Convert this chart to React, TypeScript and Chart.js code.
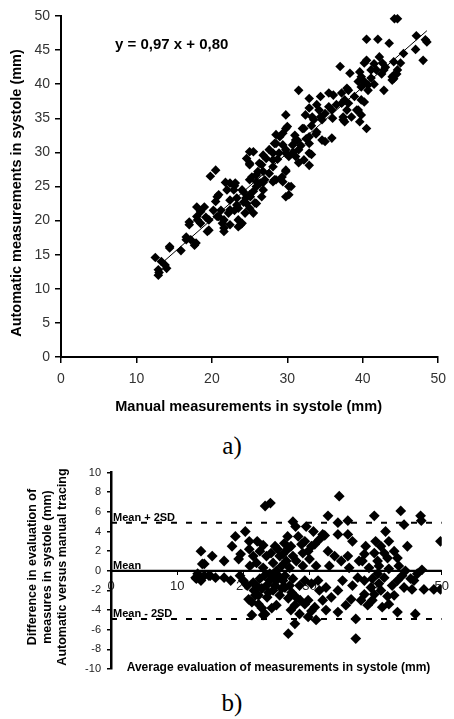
import React, { useEffect, useRef } from 'react';
import { Chart, registerables } from 'chart.js';

Chart.register(...registerables);

const FONT = '"Liberation Sans", Arial, Helvetica, sans-serif';

// ---------- Chart a) : automatic vs manual ----------
const A_X_TICKS = [0, 10, 20, 30, 40, 50];
const A_Y_TICKS = [0, 5, 10, 15, 20, 25, 30, 35, 40, 45, 50];
const A_X_TITLE = 'Manual measurements in systole (mm)';
const A_Y_TITLE = 'Automatic measurements in systole (mm)';
const A_EQUATION = 'y = 0,97 x + 0,80';
const REG_SLOPE = 0.97;
const REG_INTERCEPT = 0.8;
const REG_X_RANGE = [13.5, 48.5];

const MANUAL_X = [
  12.5, 12.9, 12.9, 13.3, 14.0, 13.8, 14.4, 15.9, 16.6, 17.0,
  17.2, 17.9, 17.7, 18.0, 18.0, 18.5, 19.0, 19.2, 19.4, 20.2,
  20.7, 21.4, 21.6, 21.2, 22.2, 22.4, 23.0, 23.5, 23.8, 23.3,
  24.4, 25.0, 25.5, 24.2, 25.7, 18.5, 18.1, 17.0, 19.6, 20.9,
  20.5, 20.9, 22.0, 23.1, 22.9, 24.0, 22.4, 23.3, 24.5, 25.1,
  23.5, 22.4, 21.6, 23.5, 24.0, 21.6, 19.6, 16.6, 14.4, 13.0,
  25.3, 25.9, 26.4, 27.0, 27.6, 28.3, 29.4, 29.8, 30.2, 30.2,
  24.6, 25.0, 26.6, 26.1, 27.2, 28.1, 28.9, 29.8, 30.2, 28.3,
  29.4, 30.7, 25.9, 26.8, 25.0, 26.6, 24.6, 25.9, 19.8, 20.5,
  21.8, 22.4, 23.0, 24.2, 25.5, 20.7, 25.0, 25.5, 26.8, 28.1,
  28.7, 25.0, 26.3, 28.1, 29.8, 29.3, 28.5, 26.8, 25.9, 25.0,
  26.8, 28.1, 30.5, 29.8, 29.8, 29.8, 28.5, 29.0, 28.5, 31.3,
  31.5, 32.9, 33.2, 27.6, 29.8, 31.1, 32.2, 31.5, 32.9, 31.5,
  32.9, 34.4, 35.5, 33.9, 32.9, 35.0, 34.4, 32.4, 33.5, 32.2,
  33.2, 33.9, 32.9, 34.6, 35.9, 33.8, 37.0, 41.8, 42.8, 39.6,
  38.3, 44.1, 44.1, 44.5, 41.1, 39.4, 39.8, 40.7, 41.5, 42.8,
  43.9, 38.1, 37.2, 38.9, 39.8, 37.6, 39.4, 37.4, 37.6, 39.6,
  39.8, 40.5, 35.9, 38.1, 44.2, 44.6, 40.5, 42.0, 43.5, 47.1,
  48.5, 47.0, 48.0, 45.4, 42.2, 40.5, 42.6, 44.1, 45.0, 48.3,
  44.6, 40.2, 41.1, 39.8, 40.2, 40.7, 40.2, 43.9, 36.1, 37.9,
  37.2, 37.9, 38.5, 39.2, 37.4, 34.2, 35.5, 34.6, 33.3, 30.0,
  32.0, 35.0, 29.4, 31.1, 32.9, 30.8, 31.8, 32.5, 31.0, 36.0,
  36.5, 42.5, 43.0, 41.5,
];
const AUTO_Y = [
  14.6, 12.8, 12.0, 14.0, 13.0, 13.5, 16.0, 15.6, 17.6, 19.4,
  17.2, 16.7, 16.4, 22.0, 20.6, 19.6, 22.0, 20.5, 18.4, 21.5,
  20.6, 19.6, 18.4, 21.5, 21.1, 19.4, 21.5, 19.1, 19.4, 22.3,
  21.1, 21.8, 21.1, 22.7, 22.6, 21.3, 20.1, 19.8, 20.1, 20.6,
  22.8, 23.8, 24.5, 25.5, 24.5, 24.5, 23.0, 23.3, 23.3, 23.5,
  21.8, 21.6, 20.1, 20.1, 19.6, 18.9, 18.6, 17.2, 16.2, 12.4,
  26.4, 25.7, 25.5, 26.0, 26.9, 26.0, 25.7, 27.4, 25.0, 23.8,
  29.1, 28.2, 28.2, 27.2, 29.1, 29.9, 29.9, 30.4, 29.4, 31.3,
  31.1, 31.1, 25.0, 24.5, 23.8, 23.5, 22.5, 22.5, 26.5, 27.4,
  25.6, 25.5, 25.1, 24.2, 24.3, 23.5, 30.1, 30.1, 29.6, 28.9,
  29.0, 28.4, 28.4, 27.9, 27.2, 26.4, 26.0, 27.2, 26.7, 26.0,
  25.6, 25.7, 25.0, 23.5, 35.5, 33.5, 32.6, 32.3, 31.3, 31.8,
  30.4, 29.9, 29.7, 30.4, 29.9, 29.4, 28.9, 28.5, 28.1, 39.1,
  37.9, 38.2, 38.7, 37.0, 36.5, 35.7, 35.2, 35.5, 34.8, 33.5,
  33.9, 33.0, 32.3, 31.8, 32.1, 32.7, 42.6, 42.1, 42.1, 41.8,
  41.6, 41.3, 40.8, 41.5, 40.9, 40.4, 39.6, 39.9, 40.0, 39.1,
  40.6, 39.1, 38.7, 38.2, 37.7, 37.7, 36.2, 35.2, 34.5, 34.5,
  35.5, 33.5, 36.2, 37.2, 49.6, 49.6, 46.6, 46.6, 46.0, 47.1,
  46.2, 45.1, 43.5, 44.5, 44.0, 43.5, 43.1, 43.3, 43.1, 46.5,
  42.1, 43.1, 42.1, 41.1, 40.4, 39.1, 37.4, 41.1, 38.4, 39.4,
  37.2, 36.2, 35.2, 36.2, 34.8, 36.2, 36.7, 34.8, 35.2, 33.8,
  33.5, 31.6, 32.8, 31.8, 31.3, 30.0, 31.0, 32.0, 32.5, 35.0,
  37.0, 41.5, 42.5, 43.0,
];

// ---------- Chart b) : Bland-Altman ----------
const B_X_TICKS = [0, 10, 20, 30, 40, 50];
const B_Y_TICKS = [-10, -8, -6, -4, -2, 0, 2, 4, 6, 8, 10];
const B_X_TITLE = 'Average evaluation of measurements in systole (mm)';
const B_Y_TITLE = ['Difference in evaluation of', 'measures in systole (mm)', 'Automatic versus manual tracing'];
const MEAN_DIFF = 0;
const UPPER_LOA = 4.9;
const LOWER_LOA = -4.9;
const LOA_LABELS = ['Mean + 2SD', 'Mean', 'Mean - 2SD'];

const AVG_X = [
  13.6, 15.3, 14.1, 13.1, 12.9, 13.6, 14.1, 15.0, 12.8, 17.1,
  13.8, 14.8, 15.8, 17.1, 18.1, 18.3, 18.8, 20.3, 22.1, 23.3,
  24.1, 20.9, 19.6, 20.9, 19.3, 21.5, 22.5, 23.5, 24.5, 21.0,
  22.0, 23.0, 24.0, 22.5, 21.5, 23.5, 25.0, 20.6, 21.3, 21.8,
  21.3, 23.3, 22.3, 20.8, 22.3, 21.6, 23.6, 24.3, 23.0, 24.5,
  25.5, 25.0, 24.0, 19.5, 20.0, 24.8, 25.5, 25.8, 26.3, 26.0,
  26.7, 27.2, 27.5, 27.9, 26.7, 28.8, 29.8, 30.6, 30.8, 29.3,
  30.3, 28.0, 29.0, 30.0, 31.0, 27.0, 26.3, 27.3, 28.0, 29.3,
  30.3, 29.8, 26.8, 27.8, 28.5, 29.3, 30.3, 31.3, 29.8, 30.8,
  28.5, 27.5, 31.5, 31.0, 32.0, 32.8, 32.3, 34.5, 34.3, 35.8,
  32.0, 34.3, 35.8, 36.5, 32.8, 33.8, 35.8, 34.8, 32.5, 34.3,
  37.3, 33.3, 34.3, 36.3, 37.8, 37.0, 37.0, 33.0, 36.0, 35.0,
  36.5, 32.5, 35.5, 37.5, 38.3, 39.8, 41.3, 42.8, 38.0, 40.3,
  41.8, 43.3, 40.0, 42.0, 44.8, 39.8, 43.8, 41.5, 44.3, 38.3,
  39.3, 40.3, 41.3, 43.3, 45.3, 45.5, 44.3, 38.3, 39.8, 40.8,
  38.8, 42.0, 43.3, 41.0, 45.8, 39.0, 40.5, 42.0, 43.5, 44.5,
  39.5, 42.5, 44.0, 38.5, 40.8, 46.8, 46.9, 49.8, 47.0, 47.3,
  48.8, 49.8, 46.0, 46.3, 29.5, 31.5,
  26.5, 27.5, 25.0, 26.0, 24.5, 27.0,
  22.8, 23.8, 24.8, 22.0, 23.2, 25.3, 22.8, 25.8, 26.8, 27.8,
  28.6, 27.2, 23.0, 24.2, 25.2, 26.2, 28.3, 29.0, 40.5, 41.8,
  42.8, 39.5,
];
const DIFF_Y = [
  2.0, 1.5, 0.7, -0.3, -0.8, -1.0, -0.5, -0.5, -0.7, 1.0,
  0.7, -0.5, -0.7, -0.7, -1.0, 2.5, 3.5, 4.0, 3.0, 6.6,
  6.9, 3.0, 1.7, 2.2, 1.2, 1.5, 2.0, 1.5, 0.8, 0.5,
  0.8, 0.3, -0.3, -0.8, -1.2, -1.5, -1.0, -1.5, -3.2, -2.5,
  -4.5, -4.4, -3.4, -2.9, -2.5, -2.0, -2.7, -3.8, -4.5, -2.0,
  -2.5, -3.5, -1.0, -0.5, -1.0, 2.5, 1.5, 0.5, -0.5, 1.7,
  2.2, 2.5, 5.0, 4.5, 3.5, 2.7, 2.0, 4.0, 2.7, 3.0,
  2.5, 1.0, 0.5, 1.2, 0.5, 0.3, -1.7, -2.2, -2.7, -3.4,
  -4.1, -4.7, -6.4, -5.4, -4.4, -1.0, -1.3, -1.0, -3.0, -3.7,
  -1.5, -0.8, -2.0, -5.0, -3.0, 5.6, 3.6, 7.6, 4.9, 5.1,
  3.7, 3.7, 3.7, 3.0, 2.0, 1.5, 1.5, 1.0, -1.7, -2.0,
  -0.7, -2.7, -4.2, -2.9, -3.0, -6.9, -4.9, 0.5, 0.3, -1.0,
  -1.5, -4.0, -3.5, 1.0, 1.7, 1.8, 1.8, 2.0, 1.0, 1.0,
  1.3, 1.3, 3.0, 3.0, 2.5, 5.6, 6.1, 4.0, 4.7, -1.0,
  -1.7, -0.3, -0.7, -1.0, -0.8, -1.9, -1.7, -2.4, -2.4, -2.0,
  -3.5, -3.4, -4.2, -3.7, -1.0, 0.3, 0.5, 0.2, 0.5, 0.0,
  -0.8, -1.5, -0.5, 2.5, 2.5, 5.6, 5.1, 3.0, 0.1, -1.9,
  -1.9, -1.9, -4.4, -0.3, 4.5, 3.2,
  1.0, 1.5, 0.0, -1.0, -0.5, -1.5,
  -1.8, -2.2, -1.5, -1.5, -0.5, -0.5, -3.8, -1.8, -2.8, -3.5,
  -3.0, -4.0, 2.6, 1.8, 2.2, 2.8, 3.5, 1.8, -1.3, -2.6,
  -2.5, -3.0,
];

const fixedTicks = (values: number[]) => (scale: any) => {
  scale.ticks = values.map((v) => ({ value: v }));
};

function ChartA() {
  const ref = useRef<HTMLCanvasElement>(null);
  useEffect(() => {
    const points = MANUAL_X.map((x, i) => ({ x, y: AUTO_Y[i] }));
    const reg = REG_X_RANGE.map((x) => ({ x, y: REG_SLOPE * x + REG_INTERCEPT }));
    const textPlugin = {
      id: 'textA',
      afterDraw(chart: any) {
        const c = chart.ctx;
        const area = chart.chartArea;
        c.save();
        c.fillStyle = '#000';
        c.font = `bold 15px ${FONT}`;
        c.textAlign = 'left';
        c.textBaseline = 'middle';
        c.fillText(A_EQUATION, 115, 45);
        c.font = `bold 14.5px ${FONT}`;
        c.textAlign = 'center';
        c.fillText(A_X_TITLE, (area.left + area.right) / 2 - 1, 407);
        c.translate(17, 193);
        c.rotate(-Math.PI / 2);
        c.fillText(A_Y_TITLE, 0, 0);
        c.restore();
      },
    };
    const chart = new Chart(ref.current!, {
      type: 'scatter',
      data: {
        datasets: [
          {
            type: 'line',
            data: reg,
            borderColor: '#000',
            borderWidth: 1,
            pointRadius: 0,
            order: 0,
          } as any,
          {
            data: points,
            pointStyle: 'rectRot',
            pointRadius: 4.8,
            backgroundColor: '#000',
            borderColor: '#000',
            borderWidth: 0,
            clip: false,
            order: 1,
          } as any,
        ],
      },
      options: {
        animation: false,
        responsive: false,
        maintainAspectRatio: false,
        layout: { padding: { top: 16, right: 9, bottom: 0, left: 0 } },
        plugins: { legend: { display: false }, tooltip: { enabled: false } },
        scales: {
          x: {
            type: 'linear',
            min: 0,
            max: 50,
            afterBuildTicks: fixedTicks(A_X_TICKS),
            afterFit: (s: any) => { s.height = 63; },
            grid: { drawOnChartArea: false, drawTicks: true, tickLength: 6, color: '#000', lineWidth: 1.5 },
            border: { display: true, color: '#000', width: 2 },
            ticks: { font: { family: FONT, size: 14 }, color: '#333', padding: 8, maxRotation: 0, autoSkip: false },
          },
          y: {
            type: 'linear',
            min: 0,
            max: 50,
            afterBuildTicks: fixedTicks(A_Y_TICKS),
            afterFit: (s: any) => { s.width = 61; },
            grid: { drawOnChartArea: false, drawTicks: true, tickLength: 6, color: '#000', lineWidth: 1.5 },
            border: { display: true, color: '#000', width: 2 },
            ticks: { font: { family: FONT, size: 14 }, color: '#333', padding: 5, autoSkip: false },
          },
        },
      },
      plugins: [textPlugin],
    });
    return () => chart.destroy();
  }, []);
  return (
    <canvas
      ref={ref}
      width={454}
      height={420}
      style={{ position: 'absolute', left: 0, top: 0, width: 454, height: 420 }}
    />
  );
}

function ChartB() {
  const ref = useRef<HTMLCanvasElement>(null);
  useEffect(() => {
    const points = AVG_X.map((x, i) => ({ x, y: DIFF_Y[i] }));
    const xEnds = [B_X_TICKS[0], B_X_TICKS[B_X_TICKS.length - 1]];
    const hLine = (v: number) => xEnds.map((x) => ({ x, y: v }));
    const textPlugin = {
      id: 'textB',
      afterDraw(chart: any) {
        const c = chart.ctx;
        const ys = chart.scales.y;
        c.save();
        c.fillStyle = '#000';
        c.font = `bold 11px ${FONT}`;
        c.textAlign = 'left';
        c.textBaseline = 'alphabetic';
        const levels = [UPPER_LOA, MEAN_DIFF, LOWER_LOA];
        levels.forEach((v, i) => {
          c.fillText(LOA_LABELS[i], 113, ys.getPixelForValue(v) - 2);
        });
        c.font = `bold 12px ${FONT}`;
        c.textAlign = 'center';
        c.textBaseline = 'middle';
        c.fillText(B_X_TITLE, 278.5, 208);
        c.font = `bold 12.5px ${FONT}`;
        const xs = [33, 48, 63];
        B_Y_TITLE.forEach((t, i) => {
          c.save();
          c.translate(xs[i], 107);
          c.rotate(-Math.PI / 2);
          c.fillText(t, 0, 0);
          c.restore();
        });
        c.restore();
      },
    };
    const lineDs = (v: number, dash: number[]) => ({
      type: 'line',
      data: hLine(v),
      borderColor: '#000',
      borderWidth: 2,
      borderDash: dash,
      pointRadius: 0,
      order: 1,
    });
    const chart = new Chart(ref.current!, {
      type: 'scatter',
      data: {
        datasets: [
          {
            data: points,
            pointStyle: 'rectRot',
            pointRadius: 5.4,
            backgroundColor: '#000',
            borderColor: '#000',
            borderWidth: 0,
            order: 0,
          },
          lineDs(UPPER_LOA, [6, 9]) as any,
          lineDs(MEAN_DIFF, []) as any,
          lineDs(LOWER_LOA, [6, 9]) as any,
        ],
      },
      options: {
        animation: false,
        responsive: false,
        maintainAspectRatio: false,
        layout: { padding: { top: 12, right: 9, bottom: 13, left: 0 } },
        plugins: { legend: { display: false }, tooltip: { enabled: false } },
        scales: {
          x: {
            type: 'linear',
            min: 0,
            max: 50,
            position: { y: 0 } as any,
            afterBuildTicks: fixedTicks(B_X_TICKS),
            grid: { drawOnChartArea: false, drawTicks: true, tickLength: 3, color: '#000', lineWidth: 1 },
            border: { display: true, color: '#000', width: 2 },
            ticks: { font: { family: FONT, size: 13 }, color: '#222', padding: 5, maxRotation: 0, autoSkip: false },
          },
          y: {
            type: 'linear',
            min: -10,
            max: 10,
            afterBuildTicks: fixedTicks(B_Y_TICKS),
            afterFit: (s: any) => { s.width = 111; },
            grid: { drawOnChartArea: false, drawTicks: true, tickLength: 4, color: '#000', lineWidth: 1.5 },
            border: { display: true, color: '#000', width: 2.5 },
            ticks: { font: { family: FONT, size: 11 }, color: '#222', padding: 6, autoSkip: false },
          },
        },
      },
      plugins: [textPlugin],
    });
    return () => chart.destroy();
  }, []);
  return (
    <canvas
      ref={ref}
      width={454}
      height={222}
      style={{ position: 'absolute', left: 0, top: 460, width: 454, height: 222 }}
    />
  );
}

const labelStyle: React.CSSProperties = {
  position: 'absolute',
  left: 182,
  width: 100,
  textAlign: 'center',
  fontFamily: '"Liberation Serif", "Times New Roman", serif',
  fontSize: 25,
  lineHeight: '30px',
  color: '#000',
};

export default function App() {
  return (
    <div style={{ position: 'absolute', left: 0, top: 0, width: 454, height: 719, background: '#fff' }}>
      <ChartA />
      <div style={{ ...labelStyle, top: 431 }}>a)</div>
      <ChartB />
      <div style={{ ...labelStyle, top: 688 }}>b)</div>
    </div>
  );
}
